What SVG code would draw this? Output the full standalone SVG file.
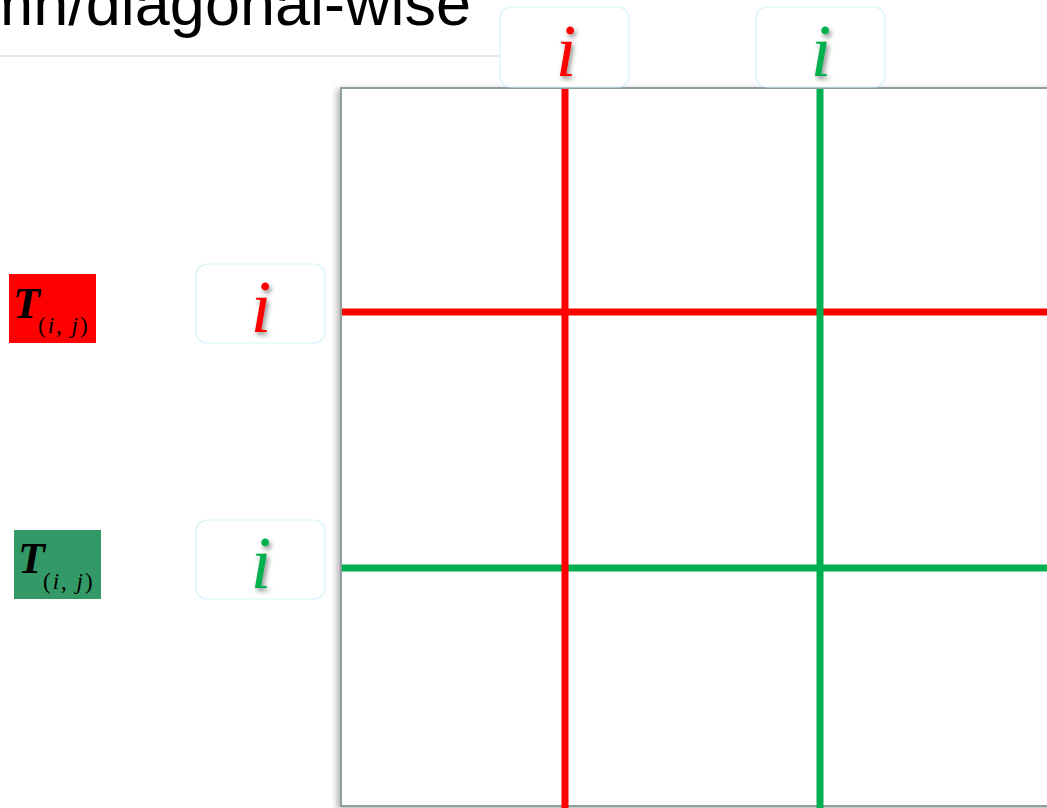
<svg xmlns="http://www.w3.org/2000/svg" width="1047" height="808" viewBox="0 0 1047 808">
<defs>
<style>
.lbl{fill:#ffffff;stroke:#d6f3f9;stroke-width:1.2}
.i{font-family:"Liberation Serif",serif;font-style:italic;font-size:74px;text-anchor:middle}
.T{font-family:"Liberation Serif",serif;font-style:italic;font-weight:bold;font-size:44px;fill:#000}
.sub{font-family:"Liberation Serif",serif;font-size:23px;letter-spacing:2px;fill:#000}
.it{font-style:italic}
.red{stroke:#ff0000;stroke-width:7}
.grn{stroke:#00b050;stroke-width:7}
</style>
<filter id="ts" x="-50%" y="-50%" width="200%" height="200%">
<feDropShadow dx="2" dy="3" stdDeviation="2.5" flood-color="#000" flood-opacity="0.45"/>
</filter>
<filter id="bs" x="-10%" y="-10%" width="120%" height="120%">
<feDropShadow dx="-3" dy="2" stdDeviation="3" flood-color="#000" flood-opacity="0.3"/>
</filter>
<linearGradient id="rb" x1="0" y1="0" x2="0" y2="1">
<stop offset="0" stop-color="#a9cdf7"/>
<stop offset="1" stop-color="#f2e2f5"/>
</linearGradient>
</defs>
<rect width="1047" height="808" fill="#fff"/>
<g id="title">
<rect x="-10" y="-10" width="511" height="66" fill="#fff" stroke="none"/>
<line x1="-10" y1="56" x2="501" y2="56" stroke="#f1e2f6" stroke-width="2"/>
<line x1="501" y1="0" x2="501" y2="56" stroke="url(#rb)" stroke-width="2"/>
<text x="471" y="25" font-family="Liberation Sans, Arial, sans-serif" font-size="63" text-anchor="end" fill="#000">mn/diagonal-wise</text>
</g>
<g id="matrix">
<rect x="341" y="88" width="720" height="718" fill="#fff" stroke="#8f9e9e" stroke-width="2" filter="url(#bs)"/>
</g>
<g id="connectors">
<line class="red" x1="342" y1="312" x2="1047" y2="312"/>
<line class="grn" x1="342" y1="568" x2="1047" y2="568"/>
<line class="red" x1="565" y1="89" x2="565" y2="808"/>
<line class="grn" x1="820" y1="89" x2="820" y2="808"/>
</g>
<g id="col-red">
<rect class="lbl" x="500" y="7" width="129" height="80" rx="11"/>
<text class="i" x="566" y="76" fill="#ff0000" filter="url(#ts)">i</text>
</g>
<g id="col-green">
<rect class="lbl" x="756" y="7" width="129" height="80" rx="11"/>
<text class="i" x="821" y="76" fill="#00b050" filter="url(#ts)">i</text>
</g>
<g id="row-red">
<rect class="lbl" x="196" y="264" width="129" height="79" rx="11"/>
<text class="i" x="261" y="332" fill="#ff0000" filter="url(#ts)">i</text>
</g>
<g id="row-green">
<rect class="lbl" x="196" y="520" width="129" height="79" rx="11"/>
<text class="i" x="261" y="588" fill="#00b050" filter="url(#ts)">i</text>
</g>
<g id="T-red">
<rect x="9" y="274" width="87" height="69" fill="#ff0000"/>
<text class="T" x="13" y="318">T</text>
<text class="sub" x="38" y="333">(<tspan class="it">i</tspan>, <tspan class="it">j</tspan>)</text>
</g>
<g id="T-green">
<rect x="14" y="530" width="87" height="69" fill="#339966"/>
<text class="T" x="18" y="573">T</text>
<text class="sub" x="43" y="589">(<tspan class="it">i</tspan>, <tspan class="it">j</tspan>)</text>
</g>
</svg>
